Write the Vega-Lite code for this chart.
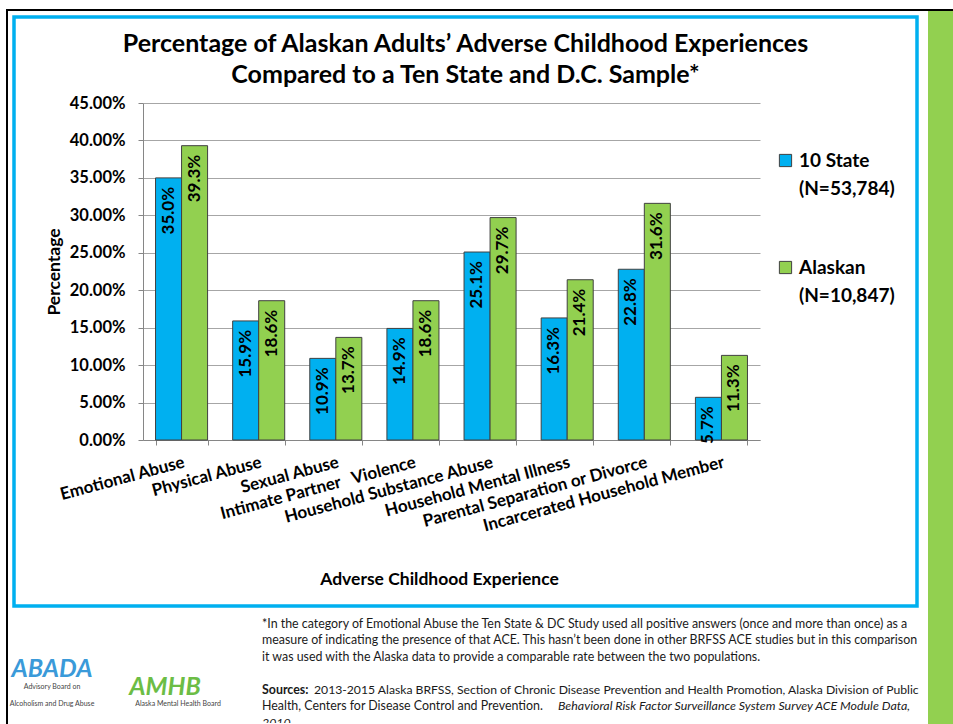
{
  "$schema": "https://vega.github.io/schema/vega-lite/v6.json",
  "padding": {"left": 6, "top": 9, "right": 0, "bottom": 0},
  "background": "white",
  "config": {"view": {"stroke": null}, "font": "Lato", "style": {"guide-label": {"lineHeight": 28}}},
  "spacing": 0,
  "vconcat": [
    {"width": 947, "height": 2, "data": {"values": [{}]}, "transform": [{"filter": "false"}], "mark": "text", "encoding": {}, "view": {"fill": "#000000", "stroke": null}},
    {
      "spacing": 0,
      "hconcat": [
        {"width": 2, "height": 713, "data": {"values": [{}]}, "transform": [{"filter": "false"}], "mark": "text", "encoding": {}, "view": {"fill": "#000000", "stroke": null}},
        {
          "spacing": 3,
          "vconcat": [
            {"width": 1, "height": 1, "data": {"values": [{}]}, "transform": [{"filter": "false"}], "mark": "text", "encoding": {}},
            {
              "spacing": 0,
              "hconcat": [
                {"width": 1, "height": 1, "data": {"values": [{}]}, "transform": [{"filter": "false"}], "mark": "text", "encoding": {}},
                {
                  "spacing": 5,
                  "vconcat": [
                    {
                      "width": 903,
                      "height": 589,
                      "view": {"stroke": "#00B0F0", "strokeWidth": 3.5, "fill": "white"},
                      "title": {
                        "text": ["Percentage of Alaskan Adults’ Adverse Childhood Experiences", "Compared to a Ten State and D.C. Sample*"],
                        "font": "Lato", "fontSize": 25, "fontWeight": "bold", "color": "#000000",
                        "anchor": "middle", "frame": "group", "offset": -71, "lineHeight": 31
                      },
                      "data": {
                        "values": [
                          {"experience": "Emotional Abuse", "group": "10 State", "pct": 0.350},
                          {"experience": "Emotional Abuse", "group": "Alaskan", "pct": 0.393},
                          {"experience": "Physical Abuse", "group": "10 State", "pct": 0.159},
                          {"experience": "Physical Abuse", "group": "Alaskan", "pct": 0.186},
                          {"experience": "Sexual Abuse", "group": "10 State", "pct": 0.109},
                          {"experience": "Sexual Abuse", "group": "Alaskan", "pct": 0.137},
                          {"experience": "Intimate Partner Violence", "group": "10 State", "pct": 0.149},
                          {"experience": "Intimate Partner Violence", "group": "Alaskan", "pct": 0.186},
                          {"experience": "Household Substance Abuse", "group": "10 State", "pct": 0.251},
                          {"experience": "Household Substance Abuse", "group": "Alaskan", "pct": 0.297},
                          {"experience": "Household Mental Illness", "group": "10 State", "pct": 0.163},
                          {"experience": "Household Mental Illness", "group": "Alaskan", "pct": 0.214},
                          {"experience": "Parental Separation or Divorce", "group": "10 State", "pct": 0.228},
                          {"experience": "Parental Separation or Divorce", "group": "Alaskan", "pct": 0.316},
                          {"experience": "Incarcerated Household Member", "group": "10 State", "pct": 0.057},
                          {"experience": "Incarcerated Household Member", "group": "Alaskan", "pct": 0.113}
                        ]
                      },
                      "encoding": {
                        "x": {
                          "field": "experience", "type": "nominal", "sort": null,
                          "scale": {"range": [129, 746], "paddingInner": 0.325, "paddingOuter": 0.1625},
                          "axis": {
                            "title": "Adverse Childhood Experience",
                            "offset": -166,
                            "grid": false,
                            "tickBand": "extent",
                            "tickSize": 5,
                            "tickColor": "#868686",
                            "domainColor": "#868686",
                            "labelAngle": -15,
                            "labelAlign": "right",
                            "labelBaseline": "top",
                            "labelPadding": 9,
                            "labelLimit": 400,
                            "labelOverlap": false,
                            "labelFont": "Lato",
                            "labelFontSize": 17,
                            "labelFontWeight": "bold",
                            "labelColor": "#000000",
                            "labelExpr": "datum.label == 'Intimate Partner Violence' ? 'Intimate Partner\u00a0\u00a0\u00a0Violence' : datum.label",
                            "titleFont": "Lato",
                            "titleFontSize": 17.5,
                            "titleFontWeight": "bold",
                            "titleColor": "#000000",
                            "titlePadding": 37,
                            "titleX": 425
                          }
                        },
                        "xOffset": {"field": "group", "type": "nominal", "sort": ["10 State", "Alaskan"]},
                        "y": {
                          "field": "pct", "type": "quantitative",
                          "scale": {"domain": [0, 0.45], "range": [423, 86], "nice": false, "zero": true},
                          "axis": {
                            "title": "Percentage",
                            "offset": -129,
                            "values": [0, 0.05, 0.1, 0.15, 0.2, 0.25, 0.3, 0.35, 0.4, 0.45],
                            "format": ".2%",
                            "tickSize": 5,
                            "tickColor": "#868686",
                            "domainColor": "#868686",
                            "gridColor": "#A6A6A6",
                            "labelPadding": 13,
                            "labelFont": "Lato",
                            "labelFontSize": 16.5,
                            "labelFontWeight": "bold",
                            "labelColor": "#000000",
                            "titleFont": "Lato",
                            "titleFontSize": 17.5,
                            "titleFontWeight": "bold",
                            "titleColor": "#000000",
                            "titlePadding": 6
                          }
                        }
                      },
                      "layer": [
                        {
                          "mark": {"type": "bar", "stroke": "#404040", "strokeWidth": 1},
                          "encoding": {
                            "color": {
                              "field": "group", "type": "nominal",
                              "scale": {"domain": ["10 State", "Alaskan"], "range": ["#00B0F0", "#92D050"]},
                              "legend": {
                                "orient": "none",
                                "legendX": 770,
                                "legendY": 142,
                                "title": null,
                                "padding": 0,
                                "symbolType": "square",
                                "symbolSize": 150,
                                "symbolStrokeColor": "#404040",
                                "symbolStrokeWidth": 1,
                                "labelExpr": "datum.label == '10 State' ? ['10 State', '(N=53,784)'] : ['Alaskan', '(N=10,847)']",
                                "labelFont": "Lato",
                                "labelFontSize": 19,
                                "labelFontWeight": "bold",
                                "labelColor": "#000000",
                                "labelLimit": 300,
                                "rowPadding": 59
                              }
                            }
                          }
                        },
                        {
                          "mark": {"type": "text", "angle": 270, "align": "right", "baseline": "middle", "dx": -9, "font": "Lato", "fontSize": 17, "fontWeight": "bold", "color": "#000000"},
                          "encoding": {"text": {"field": "pct", "type": "quantitative", "format": ".1%"}}
                        }
                      ]
                    },
                    {
                      "spacing": 12,
                      "hconcat": [
                        {
                          "width": 236,
                          "height": 110,
                          "data": {
                            "values": [
                              {"org": "ABADA", "row": 1, "kind": "name", "text": "ABADA"},
                              {"org": "AMHB", "row": 2, "kind": "name", "text": "AMHB"},
                              {"org": "ABADA", "row": 2, "kind": "sub", "text": "Advisory Board on"},
                              {"org": "ABADA", "row": 3, "kind": "sub", "text": "Alcoholism and Drug Abuse"},
                              {"org": "AMHB", "row": 3, "kind": "sub2", "text": "Alaska Mental Health Board"}
                            ]
                          },
                          "encoding": {
                            "x": {"field": "org", "type": "nominal", "axis": null, "scale": {"type": "point", "domain": ["ABADA", "AMHB"], "range": [38, 151], "padding": 0}},
                            "y": {"field": "row", "type": "quantitative", "axis": null, "scale": {"domain": [1, 3], "range": [56, 91], "zero": false, "nice": false}},
                            "text": {"field": "text", "type": "nominal"}
                          },
                          "layer": [
                            {
                              "transform": [{"filter": "datum.kind == 'name'"}],
                              "mark": {"type": "text", "font": "Lato", "fontSize": 25, "fontWeight": "bold", "fontStyle": "italic", "align": "center", "baseline": "middle"},
                              "encoding": {"color": {"condition": {"test": "datum.org == 'ABADA'", "value": "#3A9AD9"}, "value": "#6CBD45"}}
                            },
                            {
                              "transform": [{"filter": "datum.kind == 'sub'"}],
                              "mark": {"type": "text", "font": "Lato", "fontSize": 7, "align": "center", "baseline": "middle", "color": "#444444"}
                            },
                            {
                              "transform": [{"filter": "datum.kind == 'sub2'"}],
                              "mark": {"type": "text", "font": "Lato", "fontSize": 7, "align": "center", "baseline": "middle", "dx": 13, "color": "#444444"}
                            }
                          ]
                        },
                        {
                          "width": 666,
                          "height": 110,
                          "data": {
                            "values": [
                              {"line": 1, "part": "a", "text": "*In the category of Emotional Abuse the Ten State & DC Study used all positive answers (once and more than once) as a"},
                              {"line": 2, "part": "a", "text": "measure of indicating the presence of that ACE.  This hasn’t been done in other BRFSS ACE studies but in this comparison"},
                              {"line": 3, "part": "a", "text": "it was used with the Alaska data to provide a comparable rate between the two populations."},
                              {"line": 5, "part": "b", "text": "Sources:"},
                              {"line": 5, "part": "c", "text": "2013-2015 Alaska BRFSS, Section of Chronic Disease Prevention and Health Promotion, Alaska Division of Public"},
                              {"line": 6, "part": "a", "text": "Health, Centers for Disease Control and Prevention."},
                              {"line": 6, "part": "d", "text": "Behavioral Risk Factor Surveillance System Survey ACE Module Data,"},
                              {"line": 7, "part": "e", "text": "2010."}
                            ]
                          },
                          "encoding": {
                            "x": {"value": 0},
                            "y": {"field": "line", "type": "quantitative", "axis": null, "scale": {"domain": [1, 7], "range": [10.5, 109.5], "zero": false, "nice": false}},
                            "text": {"field": "text", "type": "nominal"}
                          },
                          "layer": [
                            {"transform": [{"filter": "datum.part == 'a'"}], "mark": {"type": "text", "clip": true, "align": "left", "baseline": "middle", "font": "Lato", "fontSize": 12.4, "color": "#1A1A1A"}},
                            {"transform": [{"filter": "datum.part == 'b'"}], "mark": {"type": "text", "clip": true, "align": "left", "baseline": "middle", "font": "Lato", "fontSize": 12.4, "fontWeight": "bold", "color": "#1A1A1A"}},
                            {"transform": [{"filter": "datum.part == 'c'"}], "mark": {"type": "text", "clip": true, "align": "left", "baseline": "middle", "dx": 52, "font": "Lato", "fontSize": 12.2, "color": "#1A1A1A"}},
                            {"transform": [{"filter": "datum.part == 'd'"}], "mark": {"type": "text", "clip": true, "align": "left", "baseline": "middle", "dx": 296, "font": "Lato", "fontSize": 12.4, "fontStyle": "italic", "color": "#1A1A1A"}},
                            {"transform": [{"filter": "datum.part == 'e'"}], "mark": {"type": "text", "clip": true, "align": "left", "baseline": "middle", "font": "Lato", "fontSize": 12.4, "fontStyle": "italic", "color": "#1A1A1A"}}
                          ]
                        }
                      ]
                    }
                  ]
                }
              ]
            }
          ]
        },
        {"width": 25, "height": 713, "data": {"values": [{}]}, "transform": [{"filter": "false"}], "mark": "text", "encoding": {}, "view": {"fill": "#92D050", "stroke": null}}
      ]
    }
  ]
}
